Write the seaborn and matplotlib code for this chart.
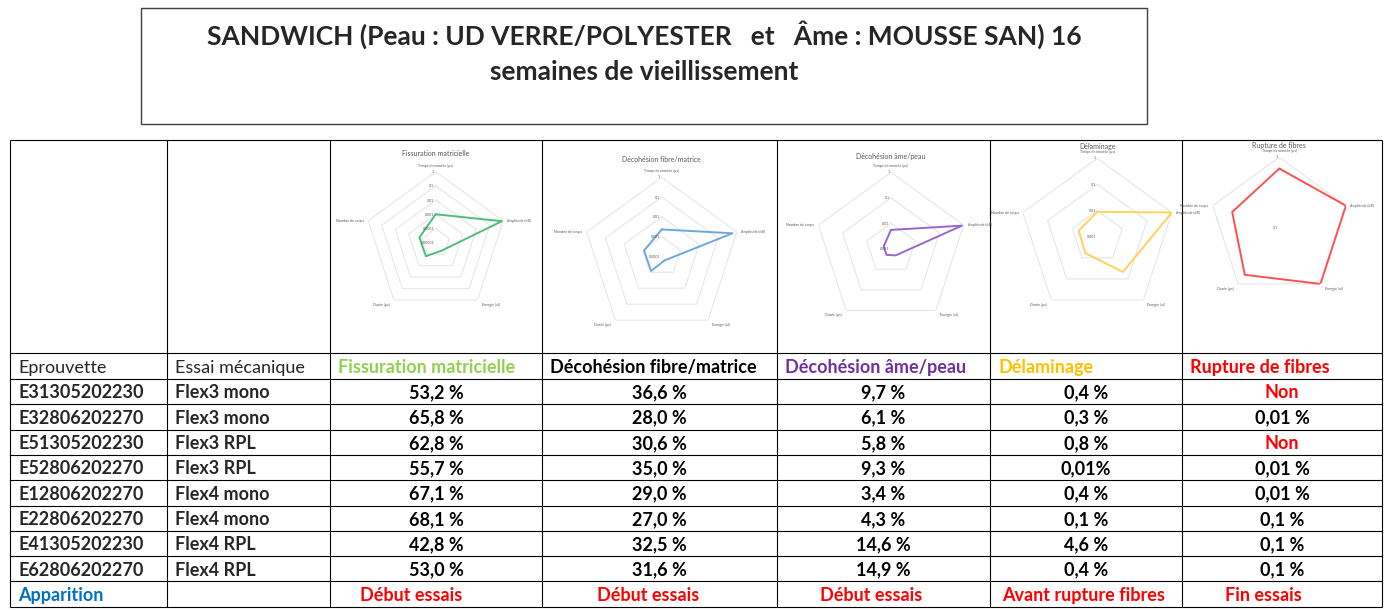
import numpy as np
import matplotlib
matplotlib.use("Agg")
import matplotlib.pyplot as plt
import seaborn as sns
from matplotlib import font_manager
from matplotlib.patches import Rectangle
from matplotlib.ticker import NullLocator

sns.set_theme(style="white")
installed = {f.name for f in font_manager.fontManager.ttflist}
NARROW = 'Liberation Sans Narrow' in installed
FONT = 'Liberation Sans Narrow' if NARROW else 'Lato'
plt.rcParams['font.family'] = [FONT, 'DejaVu Sans']

# ── data ─────────────────────────────────────────────────────
title_lines = ["SANDWICH (Peau : UD VERRE/POLYESTER   et   Âme : MOUSSE SAN) 16",
               "semaines de vieillissement"]

specimens = ["E31305202230", "E32806202270", "E51305202230", "E52806202270",
             "E12806202270", "E22806202270", "E41305202230", "E62806202270"]
tests = ["Flex3 mono", "Flex3 mono", "Flex3 RPL", "Flex3 RPL",
         "Flex4 mono", "Flex4 mono", "Flex4 RPL", "Flex4 RPL"]

fissuration = ["53,2 %", "65,8 %", "62,8 %", "55,7 %", "67,1 %", "68,1 %", "42,8 %", "53,0 %"]
fibre_matrice = ["36,6 %", "28,0 %", "30,6 %", "35,0 %", "29,0 %", "27,0 %", "32,5 %", "31,6 %"]
ame_peau = ["9,7 %", "6,1 %", "5,8 %", "9,3 %", "3,4 %", "4,3 %", "14,6 %", "14,9 %"]
delaminage = ["0,4 %", "0,3 %", "0,8 %", "0,01%", "0,4 %", "0,1 %", "4,6 %", "0,4 %"]
rupture = ["Non", "0,01 %", "Non", "0,01 %", "0,01 %", "0,1 %", "0,1 %", "0,1 %"]

damage_modes = ["Fissuration matricielle", "Décohésion fibre/matrice", "Décohésion âme/peau",
                "Délaminage", "Rupture de fibres"]
apparition = ["Début essais", "Début essais", "Début essais", "Avant rupture fibres", "Fin essais"]

# radar charts (log radial axis)
radar_axes = ["Temps de montée (µs)", "Amplitude (dB)", "Energie (aJ)", "Durée (µs)", "Nombre de coups"]
radar_fissuration = [1.0e-3, 0.8, 5.0e-5, 1.5e-4, 1.6e-4]
radar_fibre_matrice = [2.3e-3, 0.6, 1.8e-4, 8.3e-4, 8.7e-4]
radar_ame_peau = [5.5e-3, 0.85, 2.1e-3, 2.0e-3, 2.0e-3]
radar_delaminage = [9.0e-3, 1.0, 4.7e-2, 6.0e-3, 5.6e-3]
radar_rupture = [0.69, 1.0, 1.0, 0.69, 0.51]
radar_min = [1e-5, 1e-4, 1e-3, 1e-3, 1e-1]

# ── layout / style ───────────────────────────────────────────
W, H = 1389, 610
col_x = [10, 167, 330, 542, 777, 990, 1182, 1382]
row_y = [140, 353, 379, 404, 429.5, 455, 480, 505.5, 531, 556, 581, 607]
mode_colors = ['#92D050', '#000000', '#7030A0', '#FFC000', '#FF0000']
radar_colors = ['#4DBE7A', '#6FA8DC', '#9966CC', '#FFD35A', '#FF5050']
radar_centers = [(435.7, 242.7), (661.7, 256.3), (891.0, 248.7), (1097.3, 236.7), (1279.3, 227.3)]
radar_radii = [71, 78.9, 76.3, 78.3, 70]
title_pads = [11, 11, 10, 7, 7]
apparition_x = [411, 648, 871, 1084, 1263]

FS = 15 if NARROW else 13
TFS = 19.5 if NARROW else 19
DY = 1.5  # small downward nudge of cell text

fig = plt.figure(figsize=(W / 100, H / 100), dpi=100)
ax0 = fig.add_axes([0, 0, 1, 1])
ax0.set_xlim(0, W)
ax0.set_ylim(H, 0)
ax0.axis('off')

# title box
ax0.add_patch(Rectangle((141, 8), 1006, 116, fill=False, edgecolor='#404040', lw=1.0))
ax0.text(644, 35, title_lines[0], ha='center', va='center', fontsize=TFS, fontweight='bold')
ax0.text(644, 72, title_lines[1], ha='center', va='center', fontsize=TFS, fontweight='bold')

# table grid
ax0.hlines(row_y, col_x[0], col_x[-1], color='black', lw=0.8)
ax0.vlines(col_x, row_y[0], row_y[-1], color='black', lw=0.8)

row_c = [(row_y[i] + row_y[i + 1]) / 2 + DY for i in range(len(row_y) - 1)]
col_c = [(col_x[i] + col_x[i + 1]) / 2 for i in range(len(col_x) - 1)]

# header row
ax0.text(col_x[0] + 8, row_c[1], "Eprouvette", ha='left', va='center', fontsize=FS)
ax0.text(col_x[1] + 8, row_c[1], "Essai mécanique", ha='left', va='center', fontsize=FS)
for j, (mode, c) in enumerate(zip(damage_modes, mode_colors)):
    ax0.text(col_x[j + 2] + 8, row_c[1], mode, ha='left', va='center',
             fontsize=FS, fontweight='bold', color=c)

# data rows
columns = [fissuration, fibre_matrice, ame_peau, delaminage, rupture]
for i in range(len(specimens)):
    y = row_c[i + 2]
    ax0.text(col_x[0] + 8, y, specimens[i], ha='left', va='center', fontsize=FS, fontweight='bold')
    ax0.text(col_x[1] + 8, y, tests[i], ha='left', va='center', fontsize=FS, fontweight='bold')
    for j, col in enumerate(columns):
        val = col[i]
        ax0.text(col_c[j + 2], y, val, ha='center', va='center', fontsize=FS,
                 fontweight='bold', color='#FF0000' if val == "Non" else 'black')

# apparition row
ax0.text(col_x[0] + 8, row_c[-1], "Apparition", ha='left', va='center',
         fontsize=FS, fontweight='bold', color='#0070C0')
for x, txt in zip(apparition_x, apparition):
    ax0.text(x, row_c[-1], txt, ha='center', va='center', fontsize=FS,
             fontweight='bold', color='#FF0000')

# radar charts
radar_data = [radar_fissuration, radar_fibre_matrice, radar_ame_peau, radar_delaminage, radar_rupture]
theta = np.linspace(0, 2 * np.pi, len(radar_axes) + 1)
label_pos = [((0, 3), 'center', 'bottom'), ((3, 0), 'left', 'center'), ((3, -2), 'left', 'top'),
             ((-3, -2), 'right', 'top'), ((-3, 0), 'right', 'center')]

for k, vals in enumerate(radar_data):
    cx, cy = radar_centers[k]
    R = radar_radii[k]
    ax = fig.add_axes([(cx - R) / W, 1 - (cy + R) / H, 2 * R / W, 2 * R / H], projection='polar')
    ax.set_theta_zero_location('N')
    ax.set_theta_direction(-1)
    ax.set_rscale('log')
    rmin = radar_min[k]
    ndec = int(round(np.log10(1 / rmin)))
    rings = [10.0 ** (-d) for d in range(ndec)]
    for r in rings:
        ax.plot(theta, [r] * len(theta), color='#E6E6E6', lw=0.8, zorder=1)
    closed = list(vals) + [vals[0]]
    sns.lineplot(x=theta, y=closed, ax=ax, sort=False, estimator=None,
                 color=radar_colors[k], linewidth=1.4, zorder=3)
    ax.set_rlim(rmin, 1)
    ax.grid(False)
    ax.set_xticks([])
    ax.set_yticks([])
    ax.yaxis.set_minor_locator(NullLocator())
    ax.xaxis.set_minor_locator(NullLocator())
    ax.set_xlabel('')
    ax.set_ylabel('')
    ax.spines['polar'].set_visible(False)
    ax.patch.set_alpha(0)
    for d in range(ndec + 1):
        r = 10.0 ** (-d)
        lab = "1" if d == 0 else "0," + "0" * (d - 1) + "1"
        ax.annotate(lab, xy=(0, r), xytext=(-1, 0), textcoords='offset points',
                    ha='right', va='center', fontsize=2.6, color='#595959')
    for t, name, (off, ha, va) in zip(theta[:-1], radar_axes, label_pos):
        ax.annotate(name, xy=(t, 1), xytext=off, textcoords='offset points',
                    ha=ha, va=va, fontsize=2.6, color='#595959', annotation_clip=False)
    ax.set_title(damage_modes[k], fontsize=5, color='#595959', pad=title_pads[k])

fig.savefig('out.png', dpi=100)
